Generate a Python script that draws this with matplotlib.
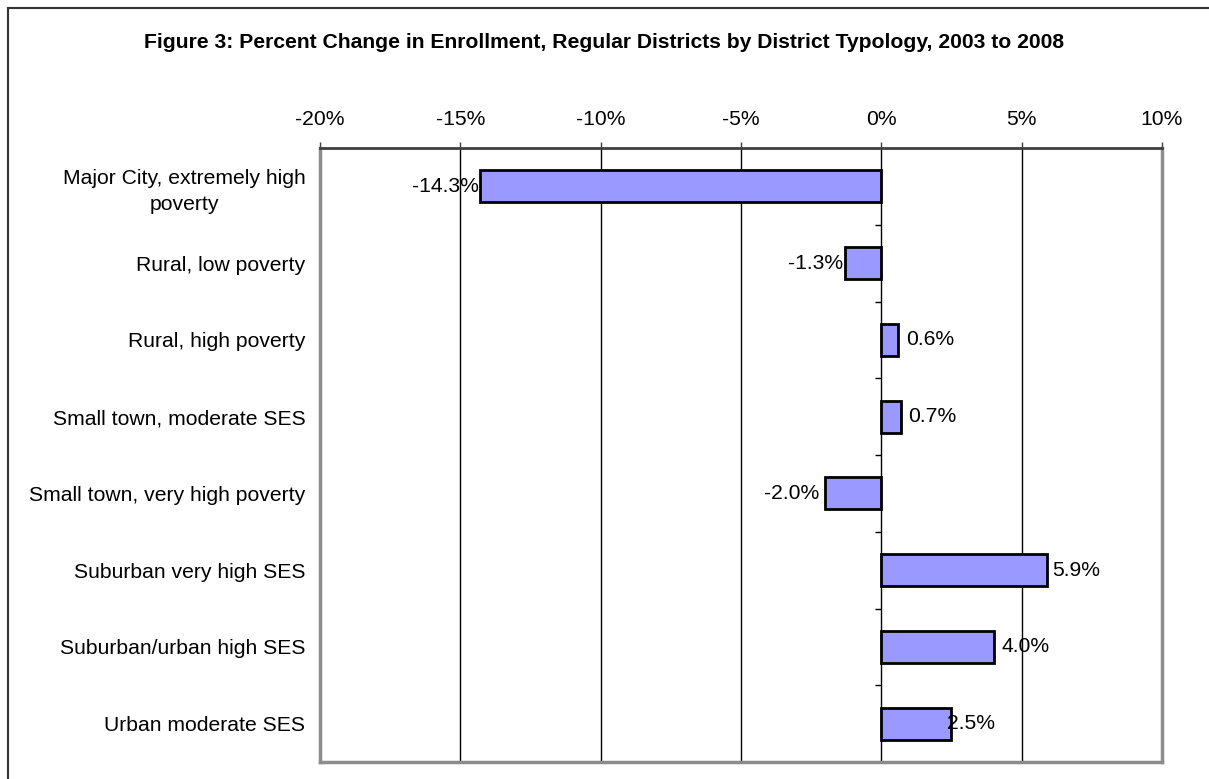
import numpy as np
import matplotlib
matplotlib.use('Agg')
import matplotlib.pyplot as plt
from matplotlib.lines import Line2D
from matplotlib.ticker import FuncFormatter

# Enrollment change 2003-2008 by district typology
categories = ['Major City, extremely high\npoverty',
              'Rural, low poverty',
              'Rural, high poverty',
              'Small town, moderate SES',
              'Small town, very high poverty',
              'Suburban very high SES',
              'Suburban/urban high SES',
              'Urban moderate SES']
pct_change = [-14.3, -1.3, 0.6, 0.7, -2.0, 5.9, 4.0, 2.5]
x_ticks = [-20, -15, -10, -5, 0, 5, 10]

title = 'Figure 3: Percent Change in Enrollment, Regular Districts by District Typology, 2003 to 2008'

# label offsets (points) from the bar end
label_pad = [1, 1, 6, 5, 4, 4, 6, -3]

plt.rcParams['font.family'] = ['Liberation Sans', 'DejaVu Sans']
fs = 15.2

fig = plt.figure(figsize=(12.09, 7.79), dpi=100)
ax = fig.add_axes([320/1209, 1-762/779, 842/1209, 614/779])

y = np.arange(len(categories))

# gridlines
for t in x_ticks[1:-1]:
    ax.axvline(t, color='black', lw=1, zorder=1)

ax.barh(y, pct_change, height=0.42, color='#9999ff', edgecolor='black',
        linewidth=2, zorder=3)

# category axis sits on zero with tick marks between categories
ax.hlines(np.arange(len(categories)+1) - 0.5, -0.22, 0, color='black', lw=1, zorder=2)

for i, v in enumerate(pct_change):
    if v < 0:
        ax.annotate('%.1f%%' % v, (v, i), xytext=(-label_pad[i], 0), textcoords='offset points',
                    ha='right', va='center', fontsize=fs, zorder=4)
    else:
        ax.annotate('%.1f%%' % v, (v, i), xytext=(label_pad[i], 0), textcoords='offset points',
                    ha='left', va='center', fontsize=fs, zorder=4)

ax.set_xlim(-20, 10)
ax.set_ylim(len(categories) - 0.5, -0.5)
ax.set_xticks(x_ticks)
ax.xaxis.set_major_formatter(FuncFormatter(lambda v, p: '%d%%' % v))
ax.xaxis.tick_top()
ax.tick_params(axis='x', direction='out', length=4, width=1, color='#404040',
               pad=10, labelsize=fs)
ax.set_yticks(y)
ax.set_yticklabels(categories, fontsize=fs, multialignment='center', linespacing=1.45)
ax.tick_params(axis='y', length=0, pad=10.5)

for s in ['left', 'right', 'bottom']:
    ax.spines[s].set_color('#8c8c8c')
    ax.spines[s].set_linewidth(2.5)
ax.spines['top'].set_color('#404040')
ax.spines['top'].set_linewidth(2)

fig.text(0.5, 1-42/779, title, ha='center', va='center', fontsize=fs, fontweight='bold')

# chart area border (top and left edges)
fig.add_artist(Line2D([8/1209, 8/1209], [0, 1-8/779], color='#333333', lw=1.5))
fig.add_artist(Line2D([8/1209, 1], [1-8/779, 1-8/779], color='#333333', lw=1.5))

fig.savefig('out.png', dpi=100)
